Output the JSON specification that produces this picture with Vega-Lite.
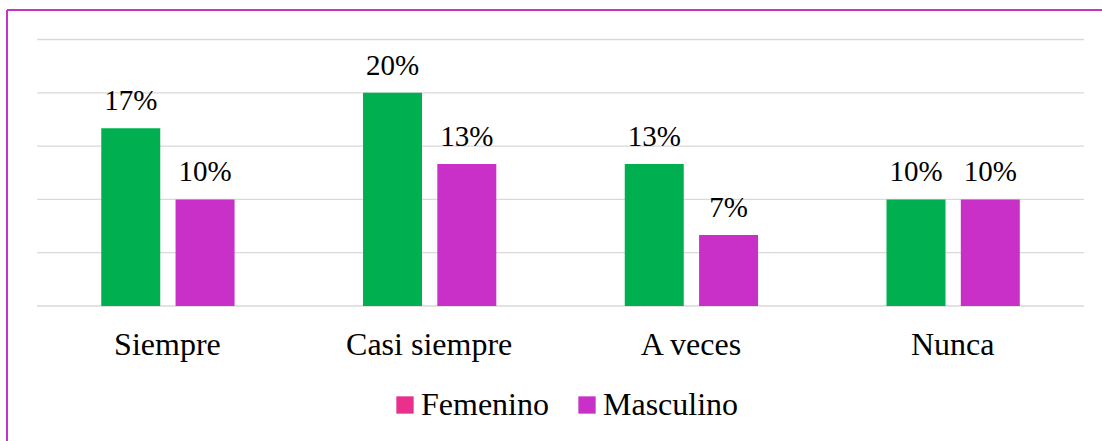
{
  "$schema": "https://vega.github.io/schema/vega-lite/v6.json",
  "width": 1095,
  "height": 431,
  "autosize": {"type": "none"},
  "padding": {"left": 7, "top": 10, "right": 0, "bottom": 0},
  "background": "white",
  "config": {"view": {"stroke": null}, "axis": {"translate": 0}},
  "datasets": {
    "bars": [
      {"categoria": "Siempre", "sexo": "Femenino", "value": 0.1667},
      {"categoria": "Siempre", "sexo": "Masculino", "value": 0.10},
      {"categoria": "Casi siempre", "sexo": "Femenino", "value": 0.20},
      {"categoria": "Casi siempre", "sexo": "Masculino", "value": 0.1333},
      {"categoria": "A veces", "sexo": "Femenino", "value": 0.1333},
      {"categoria": "A veces", "sexo": "Masculino", "value": 0.0667},
      {"categoria": "Nunca", "sexo": "Femenino", "value": 0.10},
      {"categoria": "Nunca", "sexo": "Masculino", "value": 0.10}
    ],
    "grid": [
      {"value": 0}, {"value": 0.05}, {"value": 0.10}, {"value": 0.15}, {"value": 0.20}, {"value": 0.25}
    ]
  },
  "layer": [
    {
      "data": {"name": "grid"},
      "mark": {"type": "rule", "color": "#d9d9d9", "strokeWidth": 1.3},
      "encoding": {
        "x": {"datum": 0, "type": "quantitative", "scale": {"domain": [-0.028653, 1.017192], "nice": false, "zero": false}, "axis": {"orient": "top", "domain": true, "domainColor": "#c832c8", "domainWidth": 2, "labels": false, "ticks": false, "grid": false, "title": null}},
        "x2": {"datum": 1},
        "y": {"field": "value", "type": "quantitative", "scale": {"domain": [-0.12664, 0.27767], "nice": false, "zero": false}, "axis": {"orient": "left", "domain": true, "domainColor": "#c832c8", "domainWidth": 2, "labels": false, "ticks": false, "grid": false, "title": null}}
      }
    },
    {
      "data": {"name": "bars"},
      "encoding": {
        "x": {"field": "categoria", "type": "nominal", "sort": ["Siempre", "Casi siempre", "A veces", "Nunca"], "scale": {"paddingInner": 0.4907, "paddingOuter": 0.33704, "align": 0.5342, "round": false}, "axis": {"orient": "bottom", "offset": -135, "domain": false, "ticks": false, "grid": false, "labelAngle": 0, "labelFont": "Liberation Serif", "labelFontSize": 32, "labelColor": "black", "labelPadding": 49, "labelBaseline": "alphabetic", "title": null}},
        "xOffset": {"field": "sexo", "type": "nominal", "sort": ["Femenino", "Masculino"], "scale": {"paddingInner": 0.206, "paddingOuter": 0}},
        "y": {"field": "value", "type": "quantitative", "scale": {"domain": [-0.12664, 0.27767], "nice": false, "zero": false}, "axis": {"orient": "left", "domain": true, "domainColor": "#c832c8", "domainWidth": 2, "labels": false, "ticks": false, "grid": false, "title": null}}
      },
      "layer": [
        {
          "mark": {"type": "bar", "opacity": 0},
          "encoding": {
            "color": {"field": "sexo", "type": "nominal", "scale": {"domain": ["Femenino", "Masculino"], "range": ["#e8308c", "#c830c8"]}, "legend": {"orient": "none", "legendX": 382, "legendY": 379, "direction": "horizontal", "title": null, "symbolType": "square", "symbolSize": 300, "symbolOpacity": 1, "symbolStrokeWidth": 0, "labelFont": "Liberation Serif", "labelFontSize": 32, "labelColor": "black", "labelOffset": 0, "columnPadding": 22, "padding": 0}}
          }
        },
        {
          "mark": {"type": "bar"},
          "encoding": {
            "fill": {"field": "sexo", "type": "nominal", "scale": {"domain": ["Femenino", "Masculino"], "range": ["#00b050", "#c830c8"]}, "legend": null}
          }
        },
        {
          "mark": {"type": "text", "font": "Liberation Serif", "fontSize": 29, "color": "black", "baseline": "alphabetic", "dy": -18},
          "encoding": {
            "text": {"field": "value", "type": "quantitative", "format": ".0%"}
          }
        }
      ]
    }
  ],
  "resolve": {"scale": {"x": "independent"}, "axis": {"x": "independent"}}
}
